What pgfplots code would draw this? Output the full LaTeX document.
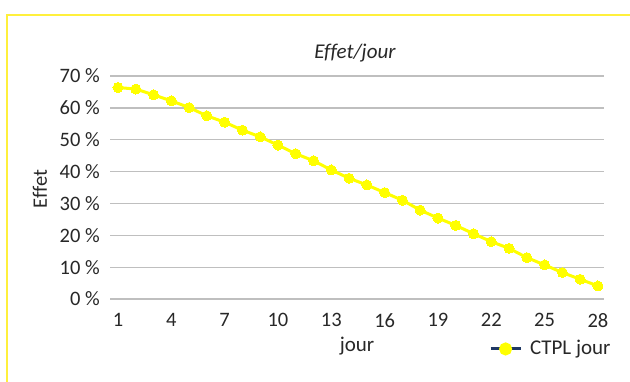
\documentclass[border=0pt]{standalone}
\usepackage{pgfplots}
\pgfplotsset{compat=1.18}
\usepackage{fontspec}
\setmainfont{Carlito}[Ligatures=CommonOff]
\definecolor{ylw}{RGB}{255,255,0}
\definecolor{frameY}{RGB}{255,240,60}
\definecolor{gridg}{RGB}{191,191,191}
\definecolor{navy}{RGB}{31,56,100}
\definecolor{txt}{RGB}{40,40,40}
\begin{document}
\fontsize{20.5}{24}\selectfont
\begin{tikzpicture}[x=1pt,y=1pt]
\path[use as bounding box] (0,0) rectangle (630,-381);
\clip (0,0) rectangle (630,-381);
\fill[white] (0,0) rectangle (630,-381);
\draw[frameY, line width=1.5pt] (7,-15) rectangle (700,-450);
\begin{axis}[
  at={(110pt,-299pt)}, anchor=south west,
  scale only axis, width=494pt, height=223pt,
  xmin=0.55, xmax=28.34, ymin=0, ymax=70,
  axis line style={draw=none}, tick style={draw=none},
  major tick length=0pt,
  ymajorgrids, grid style={gridg, line width=1.3pt},
  xtick={1,4,...,28}, ytick={0,10,...,70},
  /pgf/number format/assume math mode=true,
  yticklabel={\pgfmathprintnumber{\tick}~\%},
  ticklabel style={font=\fontsize{20.5}{24}\selectfont, text=txt},
  yticklabel style={anchor=east, inner sep=0pt, xshift=-10pt},
  xticklabel style={anchor=north, inner sep=0pt, yshift=-14pt},
  legend entries={CTPL jour},
  legend image code/.code={\draw[navy,line width=3pt] (0pt,0pt)--(30pt,0pt); \fill[ylw] (15pt,0pt) circle (5pt);},
  legend style={draw=none, fill=none, at={(axis description cs:0.767,-0.224)}, anchor=west, inner sep=0pt, font=\fontsize{21}{24}\selectfont, text=txt,
    /tikz/every odd column/.append style={column sep=6pt}},
  clip=false,
]
\addplot[ylw, line width=3pt, mark=*, mark size=5pt, mark options={fill=ylw, draw=ylw, line width=0pt}] coordinates {
(1,66.4) (2,65.9) (3,64.1) (4,62.2) (5,60.1) (6,57.5) (7,55.5) (8,53.0) (9,50.9) (10,48.3)
(11,45.6) (12,43.4) (13,40.5) (14,37.9) (15,35.8) (16,33.4) (17,31.0) (18,27.9) (19,25.4) (20,23.1)
(21,20.5) (22,18.0) (23,15.9) (24,13.0) (25,10.7) (26,8.3) (27,6.2) (28,4.1)
};
\end{axis}
\node[font=\fontsize{21}{24}\selectfont\itshape, text=txt, anchor=base] at (355,-58) {Effet/jour};
\node[rotate=90, text=txt, anchor=center] at (40,-189) {Effet};
\node[text=txt, anchor=base, font=\fontsize{21}{24}\selectfont] at (357,-351) {jour};
\end{tikzpicture}
\end{document}
